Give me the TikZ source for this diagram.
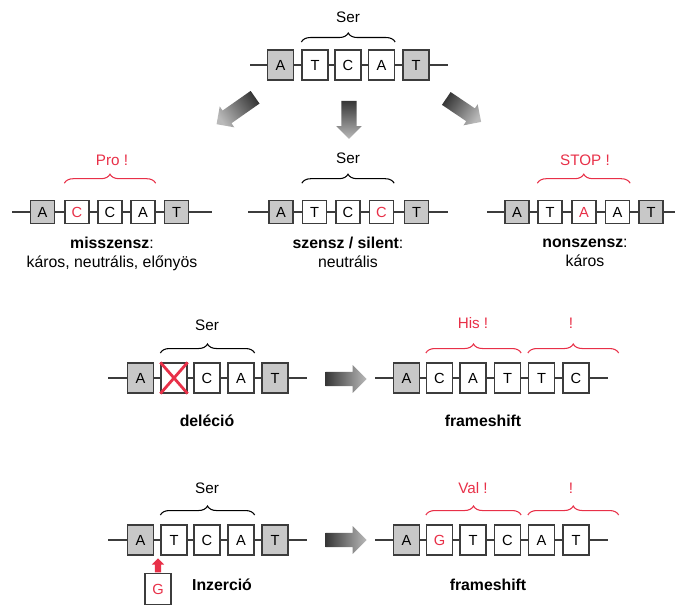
\documentclass[tikz,border=0pt]{standalone}
\usepackage{fontspec}
\setmainfont{Liberation Sans}
\usetikzlibrary{positioning,shapes.arrows,decorations.pathreplacing}
\definecolor{boxline}{RGB}{60,60,60}
\definecolor{endgrey}{RGB}{200,200,200}
\definecolor{mutred}{RGB}{232,48,72}
\definecolor{arrowdark}{RGB}{55,55,55}
\definecolor{arrowlight}{RGB}{185,185,185}
\tikzset{%
  base/.style={draw=boxline, line width=1.1pt, rectangle, minimum width=0.78cm,
    minimum height=0.9cm, inner sep=0pt, font=\fontsize{12.5}{12.5}\selectfont},
  endbase/.style={base, fill=endgrey},% flanking bases
  midbase/.style={base, fill=white},% bases of the codon
  redbase/.style={midbase, text=mutred},% changed base
  backbone/.style={draw=boxline, line width=1.1pt},
  codon/.style={decorate, decoration={brace, amplitude=0.27cm}, line width=0.9pt},
  aminoacid/.style={font=\fontsize{13}{13}\selectfont},
  kind/.style={font=\fontsize{13.5}{16}\selectfont, align=center},
  kindbold/.style={kind, font=\fontsize{13.5}{16}\selectfont\bfseries},
  bigarrow/.style={single arrow, draw=none, top color=arrowlight, bottom color=arrowdark,
    inner xsep=0pt, inner ysep=0.225cm, single arrow head extend=0.15cm,
    single arrow head indent=0pt}
}
% one DNA strand: prefix, y, left end, right end, list x/base/style
\newcommand*{\strand}[5]{
  \draw[backbone] (#3,#2) coordinate (#1l) -- (#4,#2) coordinate (#1r);
  \foreach \x/\b/\s [count=\i] in {#5}
    \node[\s] (#1\i) at (\x,#2) {\b};
}

\begin{document}
\begin{tikzpicture}[x=0.03cm, y=-0.03cm]
\useasboundingbox (0,0) rectangle (675,607);

% original strand
\strand{o}{65}{250}{448}{280.5/A/endbase, 315/T/midbase, 348/C/midbase, 381.5/A/midbase, 416/T/endbase}
\draw[codon] ([yshift=0.22cm]o2.north west) -- ([yshift=0.22cm]o4.north east);
\node[aminoacid] (ser0) at (348,17) {Ser};

\node[bigarrow, rotate=215, shading angle=125, minimum height=1.41cm] (toleft) at (239,108.5) {};
\node[bigarrow, rotate=-90, shading angle=-180, minimum height=1.14cm] (todown) at (349,116) {};
\node[bigarrow, rotate=-34, shading angle=-124, minimum height=1.26cm] (toright) at (460.5,108) {};

% point mutations
\begin{scope}[base/.append style={minimum width=0.72cm, minimum height=0.69cm}]
\strand{m}{212}{12}{212}{42.5/A/endbase, 77/C/redbase, 110/C/midbase, 143/A/midbase, 176.5/T/endbase}
\strand{s}{212}{248}{448}{281/A/endbase, 314.5/T/midbase, 348/C/midbase, 381.5/C/redbase, 416.5/T/endbase}
\strand{n}{212}{487}{675}{517/A/endbase, 550/T/midbase, 584/A/redbase, 617.5/A/midbase, 651/T/endbase}
\end{scope}
\draw[codon, mutred] ([yshift=0.5cm]m2.north west) -- ([yshift=0.5cm]m4.north east);
\draw[codon] ([yshift=0.5cm]s2.north west) -- ([yshift=0.5cm]s4.north east);
\draw[codon, mutred] ([yshift=0.5cm]n2.north west) -- ([yshift=0.5cm]n4.north east);
\node[aminoacid, mutred] (pro) at (112,160) {Pro !};
\node[aminoacid] (ser1) at (348,158) {Ser};
\node[aminoacid, mutred] (stop) at (585,160) {STOP !};
\node[kind] (miss) at (112,254) {\textbf{misszensz}:\\káros, neutrális, előnyös};
\node[kind] (sil) at (348,252) {\textbf{szensz / silent}:\\neutrális};
\node[kind] (nons) at (585,253) {\textbf{nonszensz}:\\káros};

% deletion
\strand{d}{378}{108}{307}{140.5/A/endbase, 174/{}/midbase, 207/C/midbase, 241/A/midbase, 275/T/endbase}
\draw[mutred, line width=2.4pt] (d2.north west) -- (d2.south east) (d2.north east) -- (d2.south west);
\draw[codon] ([yshift=0.28cm]d2.north west) -- ([yshift=0.28cm]d4.north east);
\node[aminoacid] (ser2) at (207,325) {Ser};
\node[kindbold] (del) at (207,421) {deléció};
\node[bigarrow, shading angle=-90, inner ysep=0.21cm, single arrow head extend=0.2cm,
  minimum height=1.23cm] (delto) at (342.5,379) {};
\strand{f}{378}{375}{608}{406.5/A/endbase, 439.5/C/midbase, 473/A/midbase, 507.5/T/midbase, 541.5/T/midbase, 576/C/midbase}
\draw[codon, mutred] ([yshift=0.28cm]f2.north west) -- ([yshift=0.28cm]f4.north east);
\draw[codon, mutred] ([yshift=0.28cm]f5.north west) -- ([xshift=0.87cm, yshift=0.28cm]f6.north east);
\node[aminoacid, mutred] (his) at (473,323) {His !};
\node[aminoacid, mutred] (fs1) at (571,323) {!};
\node[kindbold] (shift1) at (483,421) {frameshift};

% insertion
\strand{i}{540}{108}{307}{140.5/A/endbase, 174/T/midbase, 207/C/midbase, 241/A/midbase, 275/T/endbase}
\draw[codon] ([yshift=0.28cm]i2.north west) -- ([yshift=0.28cm]i4.north east);
\node[aminoacid] (ser3) at (207,488) {Ser};
\node[redbase, minimum height=0.95cm] (newg) at (158,589) {G};
\node[single arrow, draw=none, fill=mutred, rotate=90, anchor=tail, minimum height=0.42cm,
  inner xsep=0pt, inner ysep=0.09cm, single arrow head extend=0.09cm,
  single arrow head indent=0pt] (ins) at (newg.north) {};
\node[kindbold, anchor=west] (inz) at (188,585) {Inzerció};
\node[bigarrow, shading angle=-90, inner ysep=0.21cm, single arrow head extend=0.2cm,
  minimum height=1.23cm] (insto) at (342.5,540) {};
\strand{g}{540}{375}{608}{406.5/A/endbase, 439.5/G/redbase, 473/T/midbase, 507.5/C/midbase, 541.5/A/midbase, 576/T/midbase}
\draw[codon, mutred] ([yshift=0.28cm]g2.north west) -- ([yshift=0.28cm]g4.north east);
\draw[codon, mutred] ([yshift=0.28cm]g5.north west) -- ([xshift=0.87cm, yshift=0.28cm]g6.north east);
\node[aminoacid, mutred] (val) at (473,488) {Val !};
\node[aminoacid, mutred] (fs2) at (571,488) {!};
\node[kindbold] (shift2) at (488,585) {frameshift};

\end{tikzpicture}
\end{document}
